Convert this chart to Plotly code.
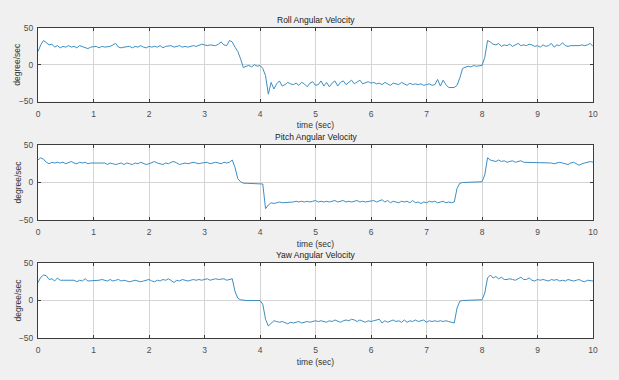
import numpy as np
import plotly.graph_objects as go

# Sample grid: 0 .. 10 s at 0.05 s
time_s = np.round(np.arange(201) * 0.05, 2)

roll = [
    18, 27, 33, 30, 27, 28, 24, 26, 23, 25, 24, 26, 24, 25, 23, 26, 25, 24, 22, 24,
    24, 25, 23, 25, 24, 24, 25, 27, 29, 24, 23, 24, 24, 25, 23, 25, 24, 26, 24, 23,
    25, 24, 25, 24, 26, 23, 25, 25, 26, 24, 25, 26, 24, 25, 24, 25, 26, 25, 27, 28,
    27, 26, 27, 27, 26, 28, 31, 27, 26, 33, 31, 24, 18, 8, -4, -2, -1, -3, 0, -2,
    -1, -5, -15, -40, -24, -33, -26, -22, -29, -27, -24, -26, -27, -25, -28, -24, -26, -30, -25, -23,
    -28, -27, -22, -29, -24, -30, -25, -22, -29, -24, -22, -27, -24, -21, -26, -23, -21, -26, -24, -23,
    -25, -24, -26, -25, -27, -24, -26, -28, -25, -26, -27, -24, -26, -28, -25, -27, -26, -27, -26, -28,
    -27, -26, -28, -27, -20, -29, -21, -27, -31, -31, -31, -28, -18, -5, -3, -2, -3, -1, -2, -1,
    -1, 10, 33, 31, 28, 27, 29, 25, 27, 26, 28, 25, 27, 29, 26, 27, 26, 28, 27, 25,
    26, 24, 27, 25, 26, 29, 24, 27, 26, 30, 26, 25, 26, 26, 25, 26, 27, 26, 27, 29,
    25,
]

pitch = [
    30, 33, 31, 27, 25, 27, 26, 27, 26, 27, 25, 26, 28, 26, 25, 27, 26, 27, 25, 26,
    26, 25, 26, 25, 26, 24, 26, 25, 24, 25, 26, 24, 26, 25, 24, 26, 25, 27, 25, 24,
    25, 26, 28, 26, 25, 24, 26, 25, 27, 28, 26, 24, 25, 26, 25, 26, 27, 26, 25, 26,
    26, 27, 25, 26, 27, 26, 25, 27, 26, 27, 30, 20, 5, 1, -1, -1, -1, -1, -1, -1,
    -1, -2, -35, -30, -27, -28, -27, -26, -27, -27, -26, -27, -26, -25, -26, -25, -26, -25, -26, -25,
    -24, -26, -25, -26, -25, -26, -25, -24, -26, -25, -24, -26, -25, -26, -25, -24, -26, -25, -26, -25,
    -25, -24, -26, -25, -23, -26, -24, -27, -25, -26, -27, -25, -26, -25, -27, -24, -27, -26, -28, -26,
    -27, -25, -26, -25, -27, -26, -25, -27, -26, -27, -26, -8, -1, 0, 0, 1, 1, 1, 1, 1,
    1, 10, 33, 30, 29, 28, 30, 28, 29, 27, 28, 29, 27, 28, 29, 27, 27, 26, 27, 26,
    26, 27, 26, 26, 27, 26, 25, 26, 27, 26, 25, 24, 26, 27, 25, 23, 25, 26, 27, 28,
    27,
]

yaw = [
    24, 31, 34, 33, 28, 29, 26, 30, 27, 27, 26, 27, 26, 27, 25, 27, 26, 29, 26, 26,
    27, 26, 27, 28, 27, 26, 28, 26, 27, 28, 26, 27, 26, 25, 26, 27, 26, 25, 26, 27,
    28, 26, 25, 27, 26, 28, 27, 29, 27, 24, 27, 26, 28, 27, 26, 27, 28, 27, 28, 27,
    28, 29, 27, 28, 29, 28, 28, 29, 27, 28, 29, 12, 3, 1, 0, 0, 0, 0, 0, 0,
    0, -5, -25, -34, -30, -27, -28, -29, -28, -30, -31, -29, -30, -29, -28, -30, -29, -28, -29, -28,
    -27, -28, -27, -28, -29, -27, -28, -26, -27, -29, -27, -26, -27, -25, -26, -28, -26, -27, -29, -27,
    -28, -27, -26, -25, -30, -27, -29, -28, -26, -28, -27, -29, -26, -29, -27, -28, -26, -28, -27, -26,
    -29, -27, -28, -27, -28, -27, -28, -27, -28, -29, -30, -10, -1, 0, 0, 0, 0, 0, 0, 0,
    1, 10, 30, 34, 30, 32, 29, 31, 28, 28, 29, 28, 27, 29, 31, 28, 28, 30, 27, 26,
    28, 27, 28, 27, 26, 28, 27, 28, 26, 27, 26, 28, 27, 26, 27, 28, 26, 25, 27, 26,
    26,
]

titles = ["Roll Angular Velocity", "Pitch Angular Velocity", "Yaw Angular Velocity"]
series = [roll, pitch, yaw]
x_ticks = list(range(0, 11))
y_ticks = [-50, 0, 50]

W, H = 619, 380
x_dom = [38 / W, 593 / W]
# (top, bottom) pixel rows of each axes box
rows_px = [(28, 101.5), (145, 220), (263, 338)]

font_family = "Liberation Sans, Arial, sans-serif"
fs = 8.5
tick_font = dict(family=font_family, size=fs, color="#4d4d4d")
label_font = dict(family=font_family, size=fs, color="#333333")
box_color = "#3c3c3c"
grid_color = "#d4d4d4"
line_color = "#3b8fc4"

fig = go.Figure()
layout = dict(
    width=W, height=H,
    margin=dict(l=0, r=0, t=0, b=0, autoexpand=False),
    paper_bgcolor="#f0f0f0",
    plot_bgcolor="#ffffff",
    showlegend=False,
    annotations=[],
)

for i, (name, vals, (top, bot)) in enumerate(zip(titles, series, rows_px)):
    n = "" if i == 0 else str(i + 1)
    fig.add_trace(go.Scatter(
        x=time_s, y=vals, mode="lines",
        line=dict(color=line_color, width=1),
        xaxis="x" + n, yaxis="y" + n, hoverinfo="skip",
    ))
    y_dom = [1 - bot / H, 1 - top / H]
    layout["xaxis" + n] = dict(
        domain=x_dom, anchor="y" + n, range=[0, 10], automargin=False,
        tickvals=x_ticks, ticks="inside", ticklen=3, tickcolor=box_color,
        ticklabelstandoff=4,
        showgrid=True, gridcolor=grid_color, gridwidth=1,
        showline=True, linecolor=box_color, linewidth=1, mirror="ticks",
        zeroline=False, tickfont=tick_font,
        title=dict(text="time (sec)", font=label_font, standoff=4),
    )
    layout["yaxis" + n] = dict(
        domain=y_dom, anchor="x" + n, range=[-50, 50], automargin=False,
        tickvals=y_ticks, ticks="inside", ticklen=3, tickcolor=box_color,
        ticklabelstandoff=2,
        showgrid=True, gridcolor=grid_color, gridwidth=1,
        showline=True, linecolor=box_color, linewidth=1, mirror="ticks",
        zeroline=False, tickfont=tick_font,
    )
    # axes title above the box
    layout["annotations"].append(dict(
        text=name, xref="paper", yref="paper",
        x=(x_dom[0] + x_dom[1]) / 2, y=1 - (top - 1) / H,
        xanchor="center", yanchor="bottom", showarrow=False,
        font=dict(family=font_family, size=fs, color="#1a1a1a"),
    ))
    # vertical unit label left of the tick labels
    layout["annotations"].append(dict(
        text="degree/sec", xref="paper", yref="paper",
        x=17 / W, y=1 - (top + bot) / 2 / H,
        xanchor="center", yanchor="middle", textangle=-90, showarrow=False,
        font=label_font,
    ))

fig.update_layout(**layout)
fig.write_html("out.html")
